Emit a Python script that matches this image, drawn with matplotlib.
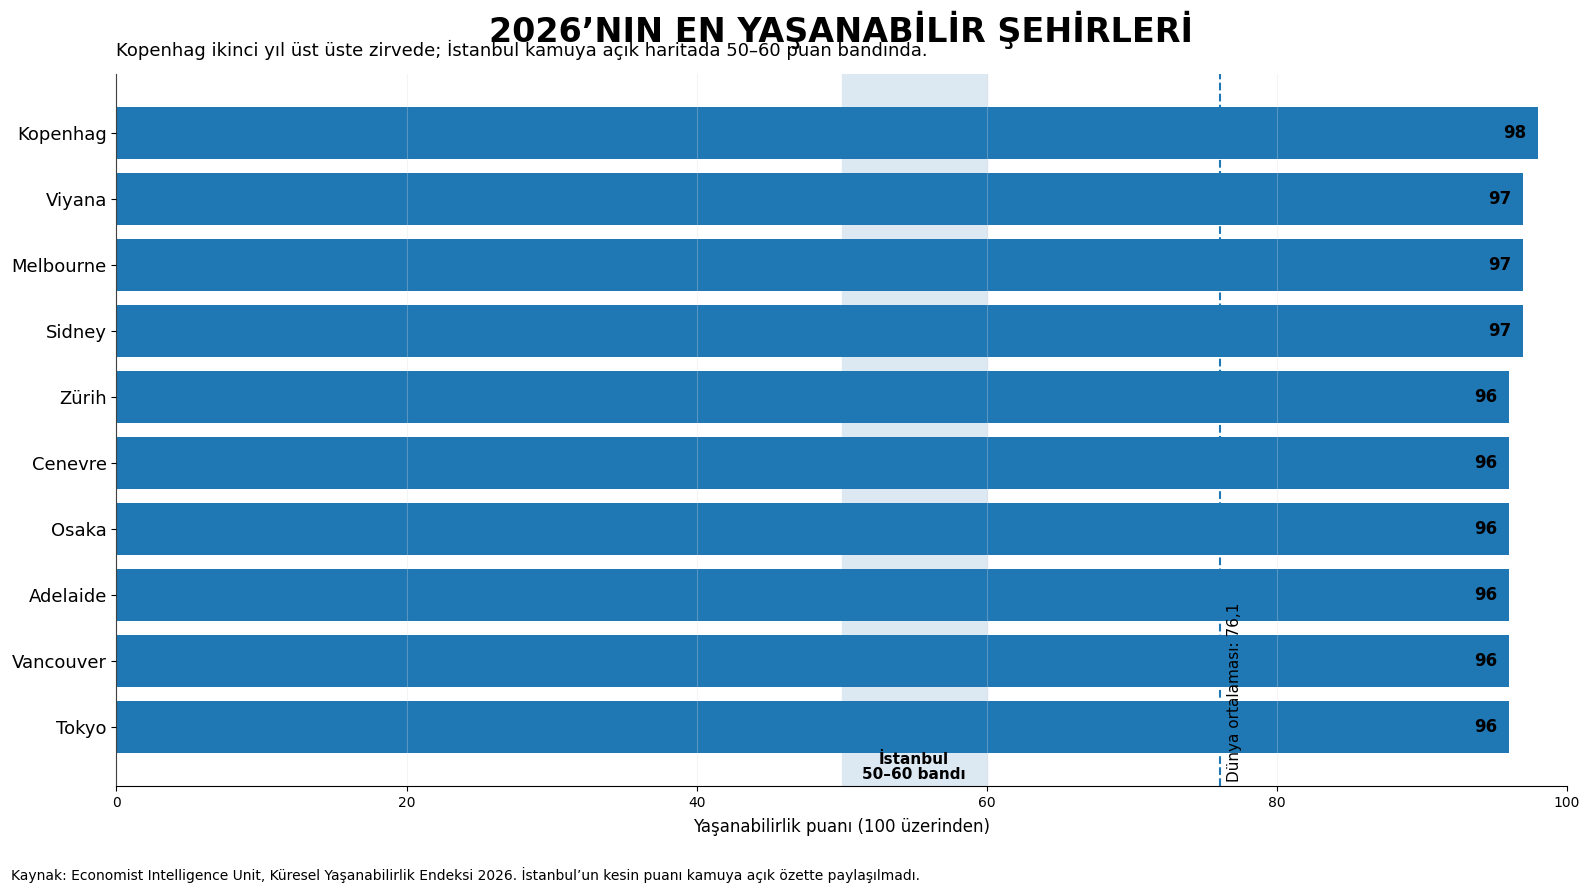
import numpy as np
import matplotlib.pyplot as plt

cities = ["Kopenhag", "Viyana", "Melbourne", "Sidney", "Zürih",
          "Cenevre", "Osaka", "Adelaide", "Vancouver", "Tokyo"]
scores = [98, 97, 97, 97, 96, 96, 96, 96, 96, 96]
world_avg = 76.1
band = (50, 60)

fig = plt.figure(figsize=(15.89, 8.94), dpi=100)
ax = fig.add_axes([0.0733, 0.121, 0.9127, 0.796])

y = np.arange(len(cities))
ax.axvspan(band[0], band[1], color="#dce8f2", zorder=0)
ax.axvline(world_avg, color="#1f77b4", linestyle="--", linewidth=1.5, zorder=1)
ax.barh(y, scores, height=0.8, color="#1f77b4", zorder=2)
ax.grid(axis="x", color="#dddddd", alpha=0.3, linewidth=0.8, zorder=3)
ax.set_axisbelow(False)

for yi, s in zip(y, scores):
    ax.text(s - 0.8, yi, f"{s}", ha="right", va="center",
            fontsize=12, fontweight="bold", color="black", zorder=4)

ax.set_yticks(y)
ax.set_yticklabels(cities, fontsize=13)
ax.invert_yaxis()
ax.set_xlim(0, 100)
ax.set_xticks([0, 20, 40, 60, 80, 100])
ax.tick_params(axis="x", labelsize=10)
ax.set_xlabel("Yaşanabilirlik puanı (100 üzerinden)", fontsize=12, labelpad=6)
for side in ["top", "right"]:
    ax.spines[side].set_visible(False)

ax.text(world_avg + 0.5, 0.005, f"Dünya ortalaması: {str(world_avg).replace('.', ',')}",
        transform=ax.get_xaxis_transform(), rotation=90, ha="left", va="bottom",
        fontsize=11, zorder=5)
ax.text(sum(band) / 2, 0.005, "İstanbul\n50–60 bandı",
        transform=ax.get_xaxis_transform(), ha="center", va="bottom",
        fontsize=11, fontweight="bold", linespacing=1.0, zorder=5)

fig.text(0.529, 0.967, "2026’NIN EN YAŞANABİLİR ŞEHİRLERİ", ha="center", va="center",
         fontsize=24, fontweight="bold")
fig.text(0.0733, 0.944, "Kopenhag ikinci yıl üst üste zirvede; İstanbul kamuya açık haritada 50–60 puan bandında.",
         ha="left", va="center", fontsize=13)
fig.text(0.007, 0.021, "Kaynak: Economist Intelligence Unit, Küresel Yaşanabilirlik Endeksi 2026. "
         "İstanbul’un kesin puanı kamuya açık özette paylaşılmadı.",
         ha="left", va="center", fontsize=10)

fig.savefig("out.png", dpi=100)
